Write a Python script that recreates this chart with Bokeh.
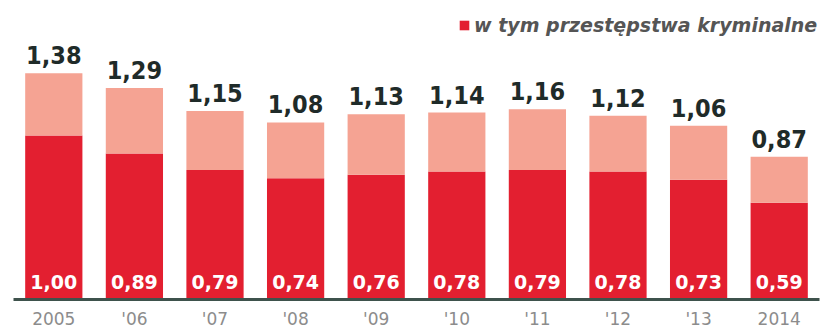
from bokeh.plotting import figure
from bokeh.models import ColumnDataSource, FactorRange, Range1d, Legend, LegendItem
from bokeh.core.properties import value
from bokeh.embed import file_html
from bokeh.resources import INLINE

years = ["2005", "'06", "'07", "'08", "'09", "'10", "'11", "'12", "'13", "2014"]
total = [1.38, 1.29, 1.15, 1.08, 1.13, 1.14, 1.16, 1.12, 1.06, 0.87]
criminal = [1.00, 0.89, 0.79, 0.74, 0.76, 0.78, 0.79, 0.78, 0.73, 0.59]
legend_label = "w tym przestępstwa kryminalne"

DARK = "#e31f30"
LIGHT = "#f5a393"

def fmt(v):
    return f"{v:.2f}".replace(".", ",")

src = ColumnDataSource(dict(
    year=years,
    total=total,
    crim=criminal,
    total_lbl=[fmt(v) for v in total],
    crim_lbl=[fmt(v) for v in criminal],
))

W, H = 821, 331
BOTTOM = 32
FH = H - BOTTOM
p = figure(
    x_range=FactorRange(factors=years),
    y_range=Range1d(0, FH / 164.0),
    width=W, height=H,
    min_border_left=13, min_border_right=2, min_border_top=0, min_border_bottom=BOTTOM,
    y_axis_location=None,
    output_backend="svg", toolbar_location=None,
    background_fill_color="white", border_fill_color="white",
)
p.outline_line_color = None
p.xgrid.grid_line_color = None
p.ygrid.grid_line_color = None

dark = p.vbar(x="year", top="crim", width=0.71, fill_color=DARK, line_color=None, source=src)
p.vbar(x="year", bottom="crim", top="total", width=0.71, fill_color=LIGHT, line_color=None, source=src)

p.text(x="year", y="total", text="total_lbl", source=src,
       text_align="center", text_baseline="alphabetic", y_offset=-18,
       text_font=value("DejaVu Sans Condensed"), text_font_style="bold",
       text_font_size="25px", text_color="#1f2b29")

p.text(x="year", y=0, text="crim_lbl", source=src,
       text_align="center", text_baseline="alphabetic", y_offset=-18,
       text_font=value("DejaVu Sans"), text_font_style="bold",
       text_font_size="19px", text_color="white")

ax = p.xaxis[0]
ax.axis_line_color = "#3e524c"
ax.axis_line_width = 3
ax.major_tick_line_color = None
ax.minor_tick_line_color = None
ax.major_tick_out = 0
ax.major_tick_in = 0
ax.minor_tick_out = 0
ax.minor_tick_in = 0
ax.major_label_text_font = "DejaVu Sans"
ax.major_label_text_font_size = "17px"
ax.major_label_text_color = "#8c8c8c"
ax.major_label_standoff = 9

legend = Legend(
    items=[LegendItem(label=legend_label, renderers=[dark])],
    location=(445, FH - 36), orientation="horizontal",
    border_line_color=None, background_fill_alpha=0,
    label_text_font="DejaVu Sans", label_text_font_style="bold italic",
    label_text_font_size="19px", label_text_color="#555555",
    glyph_width=12, glyph_height=12, label_standoff=4,
    padding=0, margin=0,
)
p.add_layout(legend)

open("out.html", "w").write(file_html(p, INLINE))
